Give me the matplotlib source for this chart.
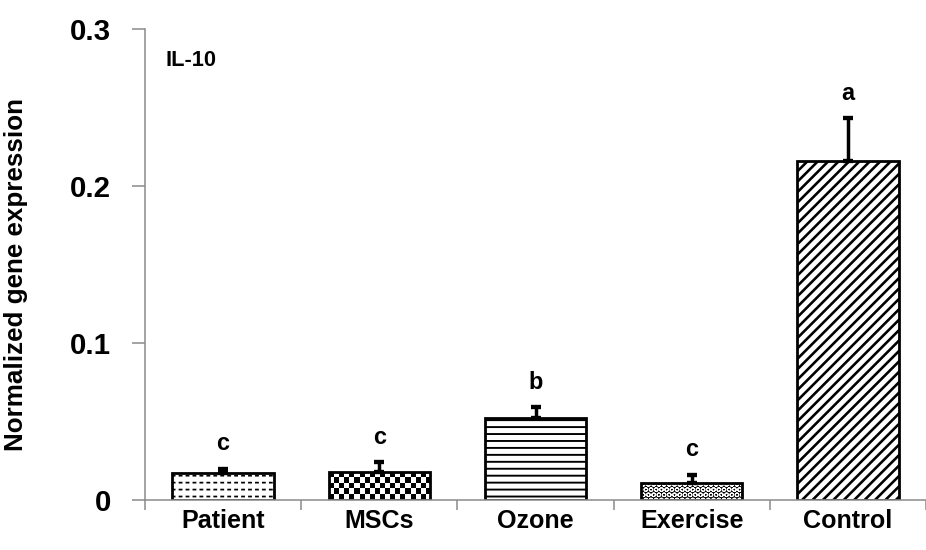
import matplotlib
matplotlib.use('Agg')
import matplotlib.pyplot as plt
import numpy as np

# values
groups = ['Patient', 'MSCs', 'Ozone', 'Exercise', 'Control']
means = [0.017, 0.018, 0.052, 0.011, 0.216]
sems = [0.003, 0.006, 0.007, 0.005, 0.027]
letters = ['c', 'c', 'b', 'c', 'a']
yticks = [0, 0.1, 0.2, 0.3]
ytick_labels = ['0', '0.1', '0.2', '0.3']

# fill style per bar (None = checkerboard image)
hatches = ['---', None, '---', 'OOOO', '////']
hatch_lw = [1.0, 1.0, 1.1, 0.6, 1.5]
faces = ['white', 'white', 'white', 'black', 'white']
hatch_colors = ['black', 'black', 'black', 'white', 'black']

FONT = ['Liberation Sans', 'DejaVu Sans']
GREY = '#8c8c8c'
DPI = 125

fig = plt.figure(figsize=(926 / DPI, 550 / DPI), dpi=DPI)
ax = fig.add_axes([145 / 926, 50 / 550, 781 / 926, 471 / 550])
ax.set_xlim(-0.5, -0.5 + 781 / 158)
ax.set_ylim(0, 0.3)

x = np.arange(len(groups))
width = 0.65

for i in range(len(groups)):
    if hatches[i] is None:
        bar = ax.bar(x[i], means[i], width, color='white', linewidth=0,
                     zorder=2)[0]
        x0, w, h = bar.get_x(), bar.get_width(), bar.get_height()
        p0 = ax.transData.transform((x0, 0))
        p1 = ax.transData.transform((x0 + w, h))
        ncol = max(1, int(round((p1[0] - p0[0]) / 5.2)))
        nrow = max(1, int(round((p1[1] - p0[1]) / 5.2)))
        board = np.indices((nrow, ncol)).sum(axis=0) % 2
        im = ax.imshow(board, cmap='gray', extent=(x0, x0 + w, 0, h),
                       aspect='auto', interpolation='nearest', zorder=2.05)
        im.set_clip_path(bar)
    else:
        with plt.rc_context({'hatch.linewidth': hatch_lw[i]}):
            ax.bar(x[i], means[i], width, color=faces[i],
                   edgecolor=hatch_colors[i], linewidth=0, hatch=hatches[i],
                   zorder=2)
    if groups[i] == 'Patient':
        # break the horizontal lines into dashes
        with plt.rc_context({'hatch.linewidth': 1.8}):
            ax.bar(x[i], means[i], width, color='none', edgecolor='white',
                   linewidth=0, hatch='|||', zorder=2.1)
    ax.bar(x[i], means[i], width, fill=False, edgecolor='black',
           linewidth=1.6, zorder=2.5)

# upper error bars only
ax.errorbar(x, means, yerr=[np.zeros(len(sems)), sems], fmt='none',
            ecolor='black', elinewidth=2.0, capsize=3, capthick=2.5, zorder=3)

for i in range(len(groups)):
    ax.text(x[i], means[i] + sems[i] + 0.016, letters[i], ha='center',
            va='center', fontsize=13.5, fontweight='bold', family=FONT)

ax.text(0.026, 0.934, 'IL-10', transform=ax.transAxes, ha='left',
        va='center', fontsize=12.5, fontweight='bold', family=FONT)

ax.set_xlim(-0.5, -0.5 + 781 / 158)
ax.set_ylim(0, 0.3)

ax.set_xticks(x)
ax.set_xticklabels(groups, fontsize=14.5, fontweight='bold', family=FONT)
ax.set_xticks(np.arange(-0.5, len(groups), 1), minor=True)
ax.tick_params(axis='x', which='major', length=0, pad=5)
ax.tick_params(axis='x', which='minor', length=5.8, width=0.9,
               color=GREY, direction='out')

ax.set_yticks(yticks)
ax.set_yticklabels(ytick_labels, fontsize=17, fontweight='bold', family=FONT)
ax.tick_params(axis='y', length=7.5, width=0.9, color=GREY,
               direction='out', pad=12)

ax.set_ylabel('Normalized gene expression', fontsize=15, fontweight='bold',
              family=FONT)
ax.yaxis.set_label_coords(-0.15, 0.478)

for side in ['top', 'right']:
    ax.spines[side].set_visible(False)
for side in ['left', 'bottom']:
    ax.spines[side].set_color(GREY)
    ax.spines[side].set_linewidth(0.9)

fig.savefig('out.png', dpi=DPI)
